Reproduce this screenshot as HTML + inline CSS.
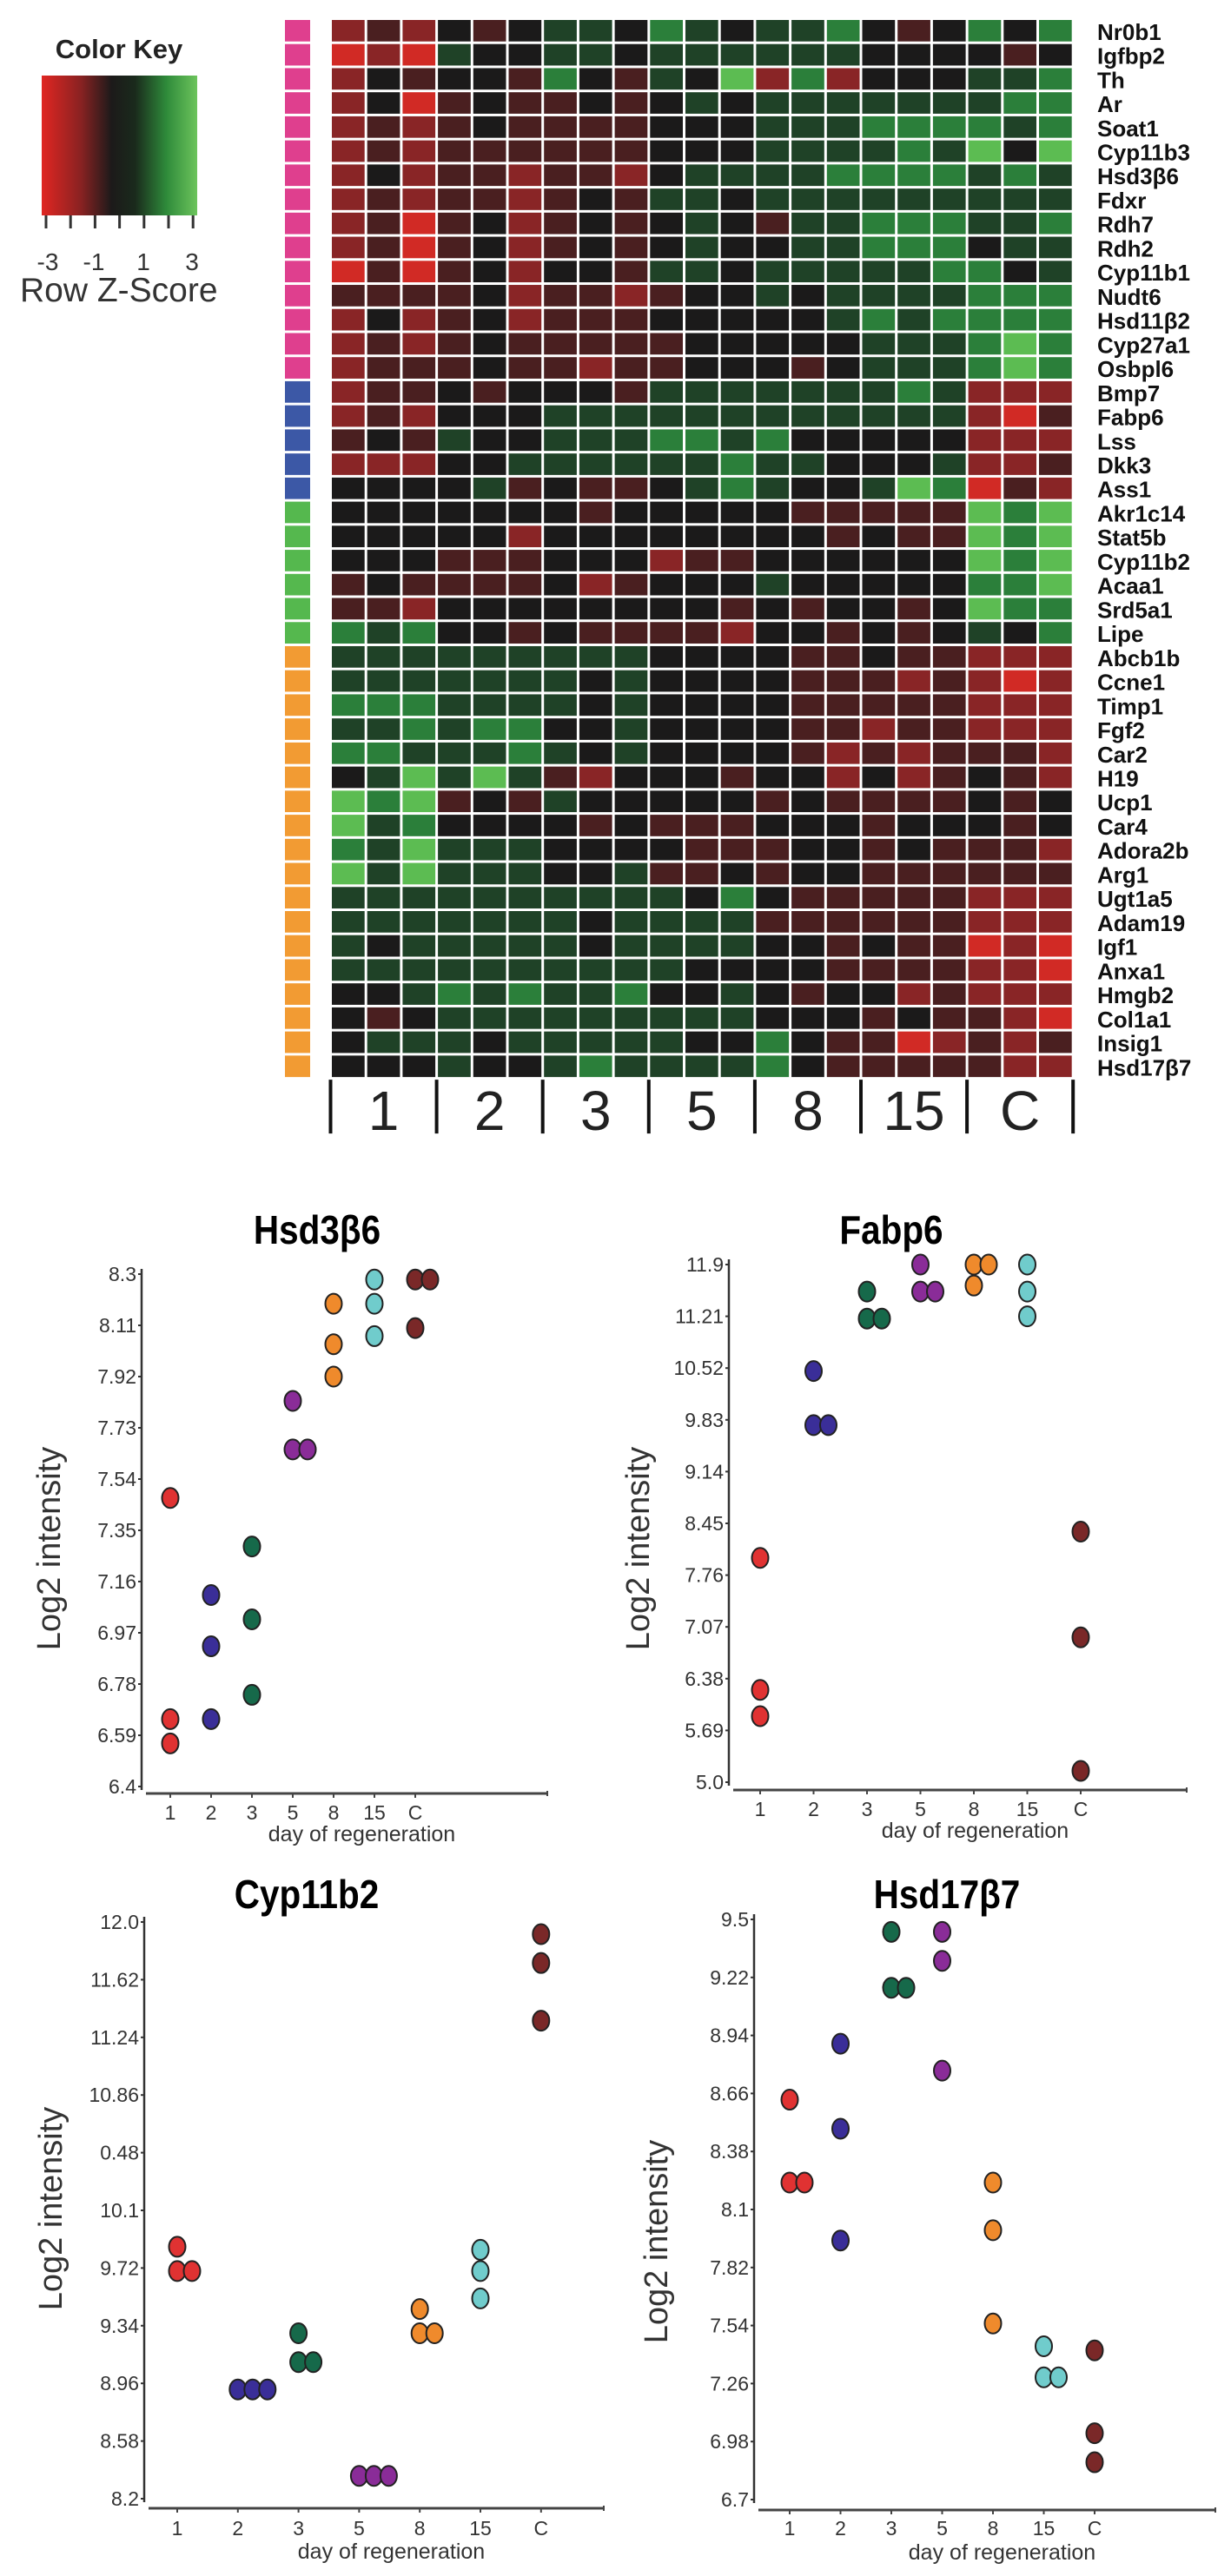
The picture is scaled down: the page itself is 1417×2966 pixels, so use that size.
<!DOCTYPE html>
<html><head><meta charset="utf-8"><style>
html,body{margin:0;padding:0;background:#fff}
svg{display:block}
text{font-family:"Liberation Sans",sans-serif}
</style></head><body>
<svg id="fig" width="1417" height="2966" viewBox="0 0 1417 2966" xmlns="http://www.w3.org/2000/svg">
<defs>
<linearGradient id="kg" x1="0" x2="1" y1="0" y2="0">
<stop offset="0" stop-color="#e02622"/><stop offset="0.25" stop-color="#8a2222"/><stop offset="0.45" stop-color="#1c1a1a"/><stop offset="0.6" stop-color="#1a2a1c"/><stop offset="0.8" stop-color="#2e8a3a"/><stop offset="1" stop-color="#6cc45c"/>
</linearGradient>
</defs>
<g>
<text x="137" y="67" font-size="31" font-weight="bold" text-anchor="middle" fill="#222">Color Key</text>
<rect x="48" y="87" width="179" height="161" fill="url(#kg)"/>
<g id="keyticks"></g>
<text x="55" y="311" font-size="28" text-anchor="middle" fill="#333">-3</text>
<text x="108" y="311" font-size="28" text-anchor="middle" fill="#333">-1</text>
<text x="165" y="311" font-size="28" text-anchor="middle" fill="#333">1</text>
<text x="221" y="311" font-size="28" text-anchor="middle" fill="#333">3</text>
<text x="23" y="347" font-size="39" fill="#333">Row Z-Score</text>
</g>
<g id="heat"></g>
<g id="plots"></g>
</svg>
<script>
const NS="http://www.w3.org/2000/svg";
function mk(tag,attrs,parent){const e=document.createElementNS(NS,tag);for(const k in attrs)e.setAttribute(k,attrs[k]);parent.appendChild(e);return e;}
// ---- heatmap data ----
const genes=["Nr0b1","Igfbp2","Th","Ar","Soat1","Cyp11b3","Hsd3β6","Fdxr","Rdh7","Rdh2","Cyp11b1","Nudt6","Hsd11β2","Cyp27a1","Osbpl6","Bmp7","Fabp6","Lss","Dkk3","Ass1","Akr1c14","Stat5b","Cyp11b2","Acaa1","Srd5a1","Lipe","Abcb1b","Ccne1","Timp1","Fgf2","Car2","H19","Ucp1","Car4","Adora2b","Arg1","Ugt1a5","Adam19","Igf1","Anxa1","Hmgb2","Col1a1","Insig1","Hsd17β7"];
const clusters=["pink","pink","pink","pink","pink","pink","pink","pink","pink","pink","pink","pink","pink","pink","pink","blue","blue","blue","blue","blue","green","green","green","green","green","green","orange","orange","orange","orange","orange","orange","orange","orange","orange","orange","orange","orange","orange","orange","orange","orange","orange","orange"];
const groups=["1","2","3","5","8","15","C"];
const zscores=[
[-2,-1,-2,0,-1,0,1,1,0,2,1,0,1,1,2,0,-1,0,2,0,2],
[-3,-2,-3,1,0,0,1,1,0,1,1,1,1,1,1,0,0,0,0,-1,0],
[-2,0,-1,0,0,-1,2,0,-1,1,0,3,-2,2,-2,0,0,0,1,1,2],
[-2,0,-3,-1,0,-1,-1,0,-1,0,1,0,1,1,1,1,1,1,1,2,2],
[-2,-1,-2,-1,0,-1,-1,-1,-1,0,0,0,1,1,1,2,2,2,2,1,2],
[-2,-1,-2,-1,-1,-1,-1,-1,-1,0,0,0,1,1,1,1,2,1,3,0,3],
[-2,0,-2,-1,-1,-2,-1,-1,-2,0,1,1,1,1,2,2,2,2,1,2,1],
[-2,-1,-2,-1,-1,-2,-1,0,-1,1,1,0,1,1,1,1,1,1,1,1,1],
[-2,-1,-3,-1,0,-2,-1,0,-1,0,1,0,-1,1,1,2,2,2,1,1,2],
[-2,-1,-3,-1,0,-2,-1,0,-1,0,1,0,0,1,1,2,2,2,0,1,1],
[-3,-1,-3,-1,0,-2,0,0,-1,1,1,0,1,1,1,1,1,2,2,0,1],
[-1,-1,-1,-1,0,-2,-1,-1,-2,-1,0,0,1,0,1,1,1,1,2,2,2],
[-2,0,-2,-1,0,-2,-1,-1,-1,0,0,0,0,0,1,2,1,2,2,2,2],
[-2,-1,-2,-1,0,-1,-1,-1,-1,-1,0,0,0,0,0,1,1,1,2,3,2],
[-2,-1,-1,-1,0,-1,-1,-2,-1,-1,0,0,0,-1,0,1,1,1,2,3,2],
[-2,-1,-1,0,-1,0,0,0,-1,1,1,1,1,1,1,1,2,1,-2,-2,-2],
[-2,-1,-2,0,0,0,1,1,1,1,1,1,1,1,1,1,1,1,-2,-3,-1],
[-1,0,-1,1,0,0,1,1,1,2,2,1,2,0,0,0,0,0,-2,-2,-2],
[-2,-2,-2,0,0,1,1,1,1,1,1,2,1,1,0,0,0,1,-2,-2,-1],
[0,0,0,0,1,-1,0,-1,-1,0,1,2,1,0,0,1,3,2,-3,-1,-2],
[0,0,0,0,0,0,0,-1,0,0,0,0,0,-1,-1,-1,-1,-1,3,2,3],
[0,0,0,0,0,-2,0,0,0,0,0,0,0,0,-1,0,-1,-1,3,2,3],
[0,0,0,-1,-1,-1,0,0,0,-2,-1,-1,0,0,0,0,0,0,3,2,3],
[-1,0,-1,-1,-1,-1,0,-2,-1,0,0,0,1,0,0,0,0,0,2,2,3],
[-1,-1,-2,0,0,0,0,0,0,0,0,-1,0,-1,0,0,-1,0,3,2,2],
[2,1,2,0,0,-1,0,-1,-1,-1,-1,-2,0,0,-1,0,-1,0,1,0,2],
[1,1,1,1,1,1,1,1,1,0,0,0,0,-1,-1,0,-1,-1,-2,-2,-2],
[1,1,1,1,1,1,1,0,1,0,0,0,0,-1,-1,-1,-2,-1,-2,-3,-2],
[2,2,2,1,1,1,1,0,1,0,0,0,0,-1,-1,-1,-1,-1,-2,-2,-2],
[1,1,2,1,2,2,0,0,1,0,0,0,0,-1,-1,-2,-1,-1,-2,-2,-2],
[2,2,1,1,1,2,1,0,1,0,0,0,0,-1,-2,-1,-2,-1,-1,-1,-2],
[0,1,3,1,3,1,-1,-2,0,0,0,-1,0,0,-2,0,-2,-1,0,-1,-2],
[3,2,3,-1,0,-1,1,0,0,0,0,0,-1,0,-1,-1,-1,-1,0,-1,0],
[3,1,2,0,0,0,0,-1,0,-1,-1,-1,0,0,0,-1,0,0,0,-1,0],
[2,1,3,1,1,1,0,0,0,0,-1,-1,-1,0,0,-1,0,-1,-1,-1,-2],
[3,1,3,1,1,1,0,0,1,-1,-1,0,-1,0,0,-1,-1,-1,-1,-1,-1],
[1,1,1,1,1,1,1,1,1,1,0,2,0,-1,-1,-1,-1,-1,-2,-2,-2],
[1,1,1,1,1,1,1,0,1,1,1,1,-1,-1,-1,-1,-1,-1,-2,-2,-2],
[1,0,1,1,1,1,1,0,1,1,1,1,0,0,-1,0,-1,-1,-3,-2,-3],
[1,1,1,1,1,1,1,1,1,1,0,0,0,0,-1,-1,-1,-1,-2,-2,-3],
[0,0,1,2,1,2,1,1,2,0,0,1,0,-1,0,0,-2,-1,-2,-2,-2],
[0,-1,0,1,1,1,1,1,1,1,1,1,0,0,0,-1,0,-1,-1,-2,-3],
[0,1,1,1,0,1,1,1,1,1,0,0,2,0,-1,-1,-3,-2,-1,-2,-1],
[0,0,0,1,0,0,1,2,1,1,1,1,2,0,-1,-1,-1,-1,-1,-2,-2]
];
const clusterColor={pink:"#df3f8e",blue:"#3c58a6",green:"#55b84e",orange:"#f29b33"};
const zPalette={"-3":"#d12a25","-2":"#892526","-1":"#4a1f20","0":"#1b1a1a","1":"#1f4227","2":"#2b7f3a","3":"#5cbc52"};
function zColor(z){return zPalette[String(Math.max(-3,Math.min(3,Math.round(z))))];}
const heat=document.getElementById("heat");
const HX=382,HY=23,CW=40.7,RH=27.73,GAP=3;
const kt=document.getElementById("keyticks");
for(let i=0;i<7;i++){mk("line",{x1:53+i*28.2,x2:53+i*28.2,y1:248,y2:263,stroke:"#333","stroke-width":3},kt);}
zscores.forEach((row,r)=>{
  const sb=mk("rect",{x:328,y:HY+r*RH,width:29,height:RH-GAP,fill:clusterColor[clusters[r]]},heat);
  
  
  row.forEach((z,c)=>{
    const cell=mk("rect",{x:HX+c*CW,y:HY+r*RH,width:CW-GAP,height:RH-GAP,fill:zColor(z)},heat);
    
    
  });
  const t=mk("text",{x:1263,y:HY+r*RH+RH/2+9,"font-size":26,"font-weight":"bold",fill:"#111"},heat);
  t.textContent=genes[r];
  
  
});
const hBot=HY+zscores.length*RH;
for(let g=0;g<=groups.length;g++){
  const x=HX+g*3*CW-GAP/2;
  const ln=mk("line",{x1:x,x2:x,y1:hBot,y2:hBot+62,stroke:"#111","stroke-width":4},heat);
  
  
  if(g<groups.length){
    const t=mk("text",{x:HX+(g*3+1.5)*CW-GAP/2,y:hBot+58,"font-size":64,"text-anchor":"middle",fill:"#222"},heat);
    t.textContent=groups[g];
    
    
  }
}
// ---- scatter data ----
const days=["1","2","3","5","8","15","C"];
const dayColors=["#e03232","#3a2e98","#16694a","#8a2c98","#ef8a2c","#70cccc","#7a2828"];
const hsd3b6Ticks=["8.3","8.11","7.92","7.73","7.54","7.35","7.16","6.97","6.78","6.59","6.4"];
const hsd3b6Vals=[[7.47,6.65,6.56],[7.11,6.92,6.65],[7.29,7.02,6.74],[7.83,7.65,7.65],[8.19,8.04,7.92],[8.28,8.19,8.07],[8.28,8.28,8.10]];
const fabp6Ticks=["11.9","11.21","10.52","9.83","9.14","8.45","7.76","7.07","6.38","5.69","5.0"];
const fabp6Vals=[[7.99,6.23,5.88],[10.48,9.76,9.76],[11.54,11.18,11.18],[11.9,11.54,11.54],[11.9,11.9,11.62],[11.9,11.54,11.21],[8.34,6.93,5.15]];
const cyp11b2Ticks=["12.0","11.62","11.24","10.86","0.48","10.1","9.72","9.34","8.96","8.58","8.2"];
const cyp11b2Vals=[[9.86,9.70,9.70],[8.92,8.92,8.92],[9.29,9.10,9.10],[8.35,8.35,8.35],[9.45,9.29,9.29],[9.84,9.70,9.52],[11.92,11.73,11.35]];
const hsd17b7Ticks=["9.5","9.22","8.94","8.66","8.38","8.1","7.82","7.54","7.26","6.98","6.7"];
const hsd17b7Vals=[[8.63,8.23,8.23],[8.90,8.49,7.95],[9.44,9.17,9.17],[9.44,9.30,8.77],[8.23,8.00,7.55],[7.44,7.29,7.29],[7.42,7.02,6.88]];
const plotDefs=[
 {title:"Hsd3β6",name:"hsd3b6",ticks:hsd3b6Ticks,vals:hsd3b6Vals,ymax:8.3,ymin:6.4,ax:163,yTop:1467,yBot:2057,axY:2065,axEnd:630,x0:196,dx:47,titleX:365,titleY:1432,ylabX:69,ylabY:1783,labY:2095,dayY:2120},
 {title:"Fabp6",name:"fabp6",ticks:fabp6Ticks,vals:fabp6Vals,ymax:11.9,ymin:5.0,ax:839,yTop:1456,yBot:2052,axY:2061,axEnd:1366,x0:875,dx:61.5,titleX:1026,titleY:1432,ylabX:747,ylabY:1783,labY:2091,dayY:2116},
 {title:"Cyp11b2",name:"cyp11b2",ticks:cyp11b2Ticks,vals:cyp11b2Vals,ymax:12.0,ymin:8.2,ax:166,yTop:2213,yBot:2877,axY:2888,axEnd:695,x0:204,dx:69.8,titleX:353,titleY:2197,ylabX:71,ylabY:2543,labY:2919,dayY:2946},
 {title:"Hsd17β7",name:"hsd17b7",ticks:hsd17b7Ticks,vals:hsd17b7Vals,ymax:9.5,ymin:6.7,ax:868,yTop:2210,yBot:2878,axY:2890,axEnd:1399,x0:909,dx:58.5,titleX:1090,titleY:2197,ylabX:768,ylabY:2581,labY:2919,dayY:2947}
];
const plots=document.getElementById("plots");
plotDefs.forEach(p=>{
  const g=mk("g",{},plots);
  
  
  const yS=v=>p.yTop+(p.ymax-v)/(p.ymax-p.ymin)*(p.yBot-p.yTop);
  const xS=i=>p.x0+i*p.dx;
  const t=mk("text",{x:p.titleX,y:p.titleY,"font-size":46,"font-weight":"bold","text-anchor":"middle",fill:"#000",transform:"translate("+p.titleX+" 0) scale(0.88 1) translate("+(-p.titleX)+" 0)"},g);
  t.textContent=p.title;
  
  
  const ya=mk("line",{x1:p.ax,x2:p.ax,y1:p.yTop-6,y2:p.yBot+4,stroke:"#333","stroke-width":2.5},g);
  
  
  p.ticks.forEach((lab,i)=>{
    const y=p.yTop+i*(p.yBot-p.yTop)/(p.ticks.length-1);
    mk("line",{x1:p.ax-4,x2:p.ax,y1:y,y2:y,stroke:"#333","stroke-width":2},g);
    const tt=mk("text",{x:p.ax-6,y:y+8,"font-size":23,"text-anchor":"end",fill:"#333"},g);
    tt.textContent=lab;
    
    
  });
  const xa=mk("line",{x1:p.ax+5,x2:p.axEnd,y1:p.axY,y2:p.axY,stroke:"#444","stroke-width":3},g);
  
  
  mk("line",{x1:p.axEnd,x2:p.axEnd,y1:p.axY-3,y2:p.axY+3,stroke:"#444","stroke-width":2},g);
  days.forEach((d,i)=>{
    mk("line",{x1:xS(i),x2:xS(i),y1:p.axY,y2:p.axY+5,stroke:"#444","stroke-width":2},g);
    const tt=mk("text",{x:xS(i),y:p.labY,"font-size":23,"text-anchor":"middle",fill:"#333"},g);
    tt.textContent=d;
    
    
  });
  const xl=mk("text",{x:(p.ax+p.axEnd)/2+20,y:p.dayY,"font-size":25,"text-anchor":"middle",fill:"#333"},g);
  xl.textContent="day of regeneration";
  
  
  const yl=mk("text",{x:p.ylabX,y:p.ylabY,"font-size":38,"text-anchor":"middle",fill:"#333",transform:"rotate(-90 "+p.ylabX+" "+p.ylabY+")"},g);
  yl.textContent="Log2 intensity";
  
  
  p.vals.forEach((arr,i)=>{
    const placed=[];
    arr.forEach(v=>{
      const y=yS(v);
      let k=0;placed.forEach(py=>{if(Math.abs(py-y)<12)k++;});
      placed.push(y);
      const c=mk("ellipse",{cx:xS(i)+k*17,cy:y,rx:9.5,ry:11.5,fill:dayColors[i],stroke:"#222","stroke-width":2},g);
      
      
    });
  });
});
</script>
</body></html>
